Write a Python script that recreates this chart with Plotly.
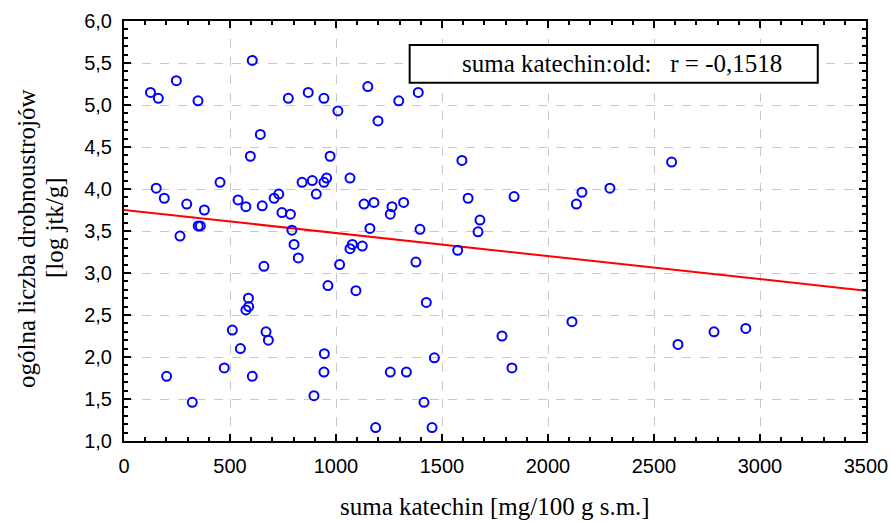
import plotly.graph_objects as go

# Data
katechin = [125, 162, 247, 349, 605, 775, 869, 943, 1009, 1150, 1198, 643, 596, 972,
            152, 190, 296, 379, 453, 350, 360, 538, 575, 652, 708, 730, 745, 785, 792,
            840, 888, 907, 943, 956, 1066, 1132, 1179, 1160,
            1296, 1388, 1594, 1623, 1840, 2134, 2160, 2292, 1264, 1256, 1319, 1679, 1670, 1396,
            2583,
            264, 802, 822, 660, 1017, 1066, 1077, 1124, 962, 1094, 587, 588, 575, 511, 670, 681,
            549, 945, 473, 201, 605, 943, 322, 896, 1187,
            1574, 1377, 1426, 1783, 2113, 1256, 1332, 1464, 1830, 1415, 1453,
            2613, 2783, 2933]
liczba = [5.15, 5.08, 5.29, 5.05, 5.53, 5.08, 5.15, 5.08, 4.93, 5.22, 4.81, 4.65, 4.39, 4.39,
          4.01, 3.89, 3.82, 3.75, 4.08, 3.56, 3.56, 3.87, 3.79, 3.80, 3.89, 3.94, 3.72, 3.70, 3.51,
          4.08, 4.10, 3.94, 4.08, 4.13, 4.13, 3.82, 3.84, 3.53,
          5.05, 5.15, 4.34, 3.89, 3.91, 3.82, 3.96, 4.01, 3.79, 3.70, 3.84, 3.63, 3.49, 3.52,
          4.32,
          3.44, 3.34, 3.18, 3.08, 3.10, 3.29, 3.34, 3.32, 2.85, 2.79, 2.70, 2.60, 2.56, 2.32, 2.30, 2.20,
          2.10, 2.04, 1.87, 1.77, 1.77, 1.82, 1.46, 1.54, 1.16,
          3.27, 3.13, 2.65, 2.25, 2.42, 1.82, 1.82, 1.99, 1.87, 1.46, 1.16,
          2.15, 2.30, 2.34]

reg_x = [0, 3500]
reg_y = [3.75, 2.79]

x_tickvals = [0, 500, 1000, 1500, 2000, 2500, 3000, 3500]
x_ticktext = ["0", "500", "1000", "1500", "2000", "2500", "3000", "3500"]
y_tickvals = [1.0, 1.5, 2.0, 2.5, 3.0, 3.5, 4.0, 4.5, 5.0, 5.5, 6.0]
y_ticktext = ["1,0", "1,5", "2,0", "2,5", "3,0", "3,5", "4,0", "4,5", "5,0", "5,5", "6,0"]

fig = go.Figure()
fig.add_trace(go.Scatter(x=reg_x, y=reg_y, mode="lines",
                         line=dict(color="#ff0000", width=2), showlegend=False))
fig.add_trace(go.Scatter(x=katechin, y=liczba, mode="markers",
                         marker=dict(symbol="circle-open", size=9, color="#0000ff",
                                     line=dict(width=2, color="#0000ff")),
                         showlegend=False))

tickfont = dict(family="Liberation Sans, Arial", size=20, color="black")
common = dict(showline=True, linecolor="black", linewidth=2, mirror="allticks",
              ticks="inside", ticklen=7, tickwidth=2, tickcolor="black",
              showgrid=True, gridcolor="#c8c8c8", gridwidth=1, griddash="dash",
              zeroline=False, tickfont=tickfont, ticklabelstandoff=6, automargin=False)

fig.update_xaxes(range=[0, 3500], tickvals=x_tickvals, ticktext=x_ticktext,
                 minor=dict(dtick=100, ticks="inside", ticklen=4, tickwidth=1.5,
                            tickcolor="black", showgrid=False),
                 **common)
fig.update_yaxes(range=[1.0, 6.0], tickvals=y_tickvals, ticktext=y_ticktext,
                 minor=dict(dtick=0.1, ticks="inside", ticklen=4, tickwidth=1.5,
                            tickcolor="black", showgrid=False),
                 **common)

serif = "Liberation Serif, Times New Roman"
fig.add_shape(type="rect", xref="paper", yref="paper", x0=0.385, x1=0.935, y0=0.853, y1=0.943,
              line=dict(color="black", width=2), fillcolor="white", layer="above")
fig.add_annotation(xref="paper", yref="paper", x=0.671, y=0.898, showarrow=False,
                   text="suma katechin:old:   r = -0,1518", xanchor="center", yanchor="middle",
                   font=dict(family=serif, size=25, color="black"))
fig.add_annotation(xref="paper", yref="paper", x=0.5, y=-0.157, showarrow=False,
                   text="suma katechin [mg/100 g s.m.]", xanchor="center", yanchor="middle",
                   font=dict(family=serif, size=25, color="black"))
fig.add_annotation(xref="paper", yref="paper", x=-0.1307, y=0.481, showarrow=False,
                   text="ogólna liczba drobnoustrojów", textangle=-90,
                   xanchor="center", yanchor="middle",
                   font=dict(family=serif, size=25, color="black"))
fig.add_annotation(xref="paper", yref="paper", x=-0.0943, y=0.507, showarrow=False,
                   text="[log jtk/g]", textangle=-90,
                   xanchor="center", yanchor="middle",
                   font=dict(family=serif, size=25, color="black"))

fig.update_layout(width=891, height=521, margin=dict(l=124, r=25, t=21, b=80, autoexpand=False),
                  plot_bgcolor="white", paper_bgcolor="white")
fig.write_html("out.html", config={"displayModeBar": False},
               post_script="document.body.style.margin='0';document.body.style.overflow='hidden';")
